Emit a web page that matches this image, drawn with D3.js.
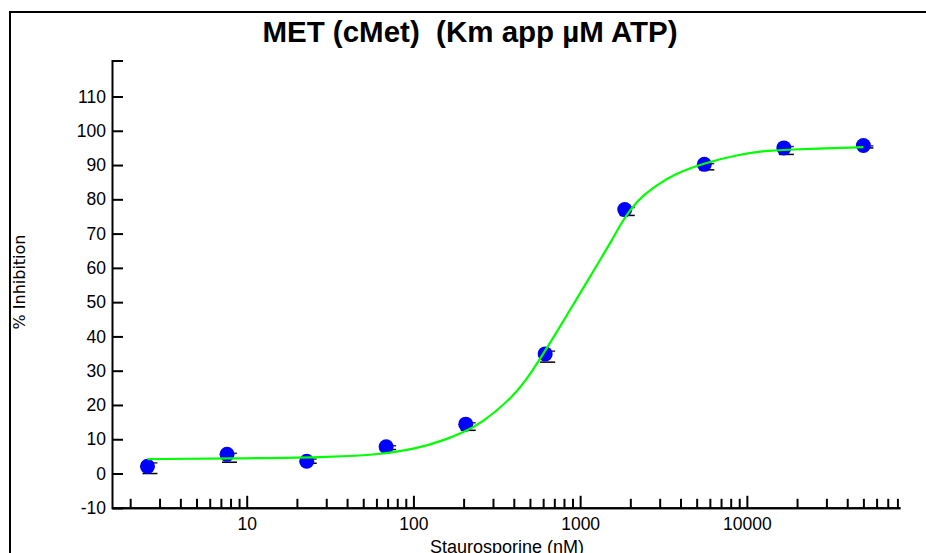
<!DOCTYPE html>
<html>
<head>
<meta charset="utf-8">
<script src="https://cdn.jsdelivr.net/npm/d3@7"></script>
<style>
  body { margin: 0; background: #fff; }
  svg { display: block; }
  .tick text { font-family: Arial, "Liberation Sans", sans-serif; font-size: 17.5px; fill: #000; }
</style>
</head>
<body>
<div id="chart"></div>
<script>
// dilution series (nM) and mean % inhibition
var conc = [2.54, 7.62, 22.9, 68.6, 206, 617, 1852, 5556, 16667, 50000];
var inhibition = [2.1, 5.6, 3.6, 7.8, 14.4, 34.9, 77.0, 90.2, 95.0, 95.7];
var errLow = [0.0, 3.3, 3.0, 7.0, 12.6, 32.5, 75.3, 88.6, 93.1, 95.0];
var errHigh = [3.1, 5.9, 4.2, 8.1, 14.8, 35.7, 77.6, 90.4, 95.4, 95.6];

// fitted curve
var fitConc = [2.54, 10, 33, 63, 100, 158, 204, 251, 398, 520, 601, 676, 776, 891,
  1023, 1175, 1349, 1549, 1754, 2042, 2449, 2871, 3614, 5729, 9080, 11970, 16667, 50000];
var fitVal = [4.2, 4.4, 4.8, 5.6, 7.0, 9.9, 12.3, 14.4, 22.3, 30.1, 35.0, 38.9, 43.7, 48.6,
  53.4, 58.3, 63.2, 68.0, 72.9, 77.7, 81.6, 84.0, 87.3, 90.8, 93.1, 94.0, 94.5, 95.2];

var xMajor = [10, 100, 1000, 10000];
var yTicks = [-10, 0, 10, 20, 30, 40, 50, 60, 70, 80, 90, 100, 110];

var width = 926, height = 553;

var svg = d3.select("#chart").append("svg")
  .attr("width", width)
  .attr("height", height);

// outer frame (right and bottom edges run off the page)
svg.append("rect")
  .attr("x", 10).attr("y", 12)
  .attr("width", 940).attr("height", 560)
  .style("fill", "none")
  .style("stroke", "#000")
  .style("stroke-width", 2);

var x = d3.scaleLog()
  .domain([1.556, 82900])
  .range([112, 900]);

var y = d3.scaleLinear()
  .domain([-10, 120.5])
  .range([507.8, 60.5]);

// plain hyphen for negatives, like the original
var plain = function(d){ return String(d); };

// y axis, ticks pointing inward
svg.append("g")
  .attr("transform", "translate(" + x.range()[0] + ",0)")
  .call(d3.axisLeft(y).tickValues(yTicks).tickSizeInner(-11).tickSizeOuter(-11)
    .tickPadding(6).tickFormat(plain));

// x axis: minor ticks first, then major ticks with labels
var minor = x.ticks().filter(function(d){
  return Math.abs(Math.log10(d) - Math.round(Math.log10(d))) > 1e-6;
});
svg.append("g")
  .attr("transform", "translate(0," + y(-10) + ")")
  .call(d3.axisBottom(x).tickValues(minor).tickSizeInner(-9).tickSizeOuter(0).tickFormat(""));

svg.append("g")
  .attr("transform", "translate(0," + y(-10) + ")")
  .call(d3.axisBottom(x).tickValues(xMajor).tickSizeInner(-12).tickSizeOuter(0)
    .tickPadding(10).tickFormat(plain));

svg.selectAll(".domain").style("stroke-width", 2);
svg.selectAll(".tick line").style("stroke-width", 2);

// error bar caps (mostly hidden behind the dots)
var rows = conc.map(function(c, i){
  return {c: c, v: inhibition[i], lo: errLow[i], hi: errHigh[i]};
});

var caps = svg.append("g");
rows.forEach(function(d){
  [d.lo, d.hi].forEach(function(v, k){
    caps.append("line")
      .attr("x1", x(d.c) - 5).attr("x2", x(d.c) + 10)
      .attr("y1", y(v)).attr("y2", y(v))
      .style("stroke", k == 0 ? "#000" : "#333")
      .style("stroke-width", 1.5);
  });
});

svg.append("g").selectAll("circle")
  .data(rows)
  .enter()
  .append("circle")
  .attr("cx", function(d){ return x(d.c); })
  .attr("cy", function(d){ return y(d.v); })
  .attr("r", 7.5)
  .style("fill", "#0000ff");

// fit line on top of the points
var line = d3.line()
  .x(function(d){ return x(d[0]); })
  .y(function(d){ return y(d[1]); })
  .curve(d3.curveBasis);

svg.append("path")
  .datum(fitConc.map(function(c, i){ return [c, fitVal[i]]; }))
  .attr("d", line)
  .style("fill", "none")
  .style("stroke", "#00ff00")
  .style("stroke-width", 2.2);

// texts
svg.append("text")
  .attr("x", 470).attr("y", 42)
  .attr("text-anchor", "middle")
  .style("font", "bold 29.5px Arial, 'Liberation Sans', sans-serif")
  .style("white-space", "pre")
  .text("MET (cMet)  (Km app µM ATP)");

svg.append("text")
  .attr("x", 507).attr("y", 553)
  .attr("text-anchor", "middle")
  .style("font", "18px Arial, 'Liberation Sans', sans-serif")
  .text("Staurosporine (nM)");

svg.append("text")
  .attr("transform", "translate(25,282) rotate(-90)")
  .attr("text-anchor", "middle")
  .style("font", "16px 'DejaVu Sans', sans-serif")
  .text("% Inhibition");
</script>
</body>
</html>
